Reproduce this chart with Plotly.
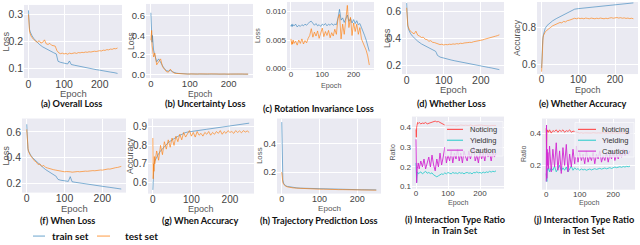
import plotly.graph_objects as go

# ---------------- data ----------------
EP = [0, 1, 2, 3, 4, 5, 7, 10, 15, 20, 25, 30, 35, 40, 45, 50, 55, 60, 65, 70, 75, 80, 85, 90, 95,
      100, 105, 110, 115, 120, 125, 130, 135, 140, 145, 150, 155, 160, 165, 170, 175, 180, 185, 190,
      195, 200, 205, 210, 215, 220, 225, 230, 235, 240, 245, 250]
EP_S = [0, 1, 2, 3, 5, 7, 10, 15, 20, 30, 40, 50, 60, 70, 78, 80, 83, 90, 100, 110, 115, 120, 130,
        140, 150, 160, 170, 180, 190, 200, 210, 220, 230, 240, 250]

A_TRAIN = [0.315, 0.275, 0.255, 0.245, 0.235, 0.228, 0.221, 0.211, 0.203, 0.19, 0.18, 0.172, 0.165,
           0.159, 0.154, 0.14, 0.127, 0.123, 0.12, 0.117, 0.128, 0.115, 0.112, 0.109, 0.106, 0.103,
           0.101, 0.098, 0.096, 0.094, 0.091, 0.089, 0.087, 0.085, 0.082]
A_TEST = [0.30, 0.262, 0.248, 0.238, 0.232, 0.227, 0.221, 0.214, 0.206, 0.201, 0.197, 0.203, 0.194,
          0.197, 0.206, 0.191, 0.189, 0.193, 0.186, 0.185, 0.183, 0.166, 0.158, 0.155, 0.157, 0.154,
          0.156, 0.153, 0.157, 0.155, 0.156, 0.158, 0.156, 0.159, 0.158, 0.160, 0.159, 0.161, 0.160,
          0.162, 0.161, 0.163, 0.164, 0.163, 0.165, 0.166, 0.165, 0.168, 0.167, 0.170, 0.169, 0.172,
          0.171, 0.174, 0.173, 0.176]

B_TRAIN = [0.63, 0.50, 0.38, 0.33, 0.40, 0.30, 0.25, 0.20, 0.13, 0.16, 0.12, 0.09, 0.06, 0.04, 0.035,
           0.045, 0.03, 0.02, 0.015, 0.012, 0.010, 0.008, 0.007, 0.006,
           0.006, 0.005, 0.006, 0.005, 0.005, 0.006, 0.005, 0.005, 0.004, 0.005, 0.005, 0.004, 0.005,
           0.004, 0.004, 0.005, 0.004, 0.004, 0.005, 0.004, 0.004, 0.004, 0.005, 0.004, 0.004, 0.004,
           0.004, 0.005, 0.004, 0.004, 0.004, 0.004]
B_TEST = [0.35, 0.42, 0.45, 0.30, 0.25, 0.28, 0.18, 0.22, 0.10, 0.13, 0.16, 0.08, 0.05, 0.03, 0.025,
          0.055, 0.03, 0.015, 0.012, 0.01, 0.008, 0.007, 0.006, 0.006,
          0.005, 0.007, 0.005, 0.006, 0.006, 0.005, 0.007, 0.005, 0.006, 0.005, 0.006, 0.007, 0.005,
          0.006, 0.005, 0.006, 0.005, 0.007, 0.005, 0.006, 0.005, 0.006, 0.006, 0.005, 0.007, 0.005,
          0.006, 0.005, 0.006, 0.005, 0.006, 0.005]

C_TRAIN = [0.0076, 0.0074, 0.0077, 0.0075, 0.0078, 0.0074, 0.0077, 0.0075, 0.0078, 0.0073, 0.0076,
           0.0074, 0.0077, 0.0075, 0.0078, 0.0076, 0.0079, 0.0082, 0.0083, 0.0079, 0.0076, 0.0079,
           0.0075, 0.0077, 0.0074, 0.0078, 0.0076, 0.0079, 0.0075, 0.0078, 0.0076, 0.0079, 0.0076,
           0.0078, 0.0077, 0.0088, 0.0104, 0.0085, 0.0089, 0.0081, 0.0087, 0.0094, 0.0083, 0.0088,
           0.0080, 0.0086, 0.0079, 0.0084, 0.0077, 0.0079, 0.0072, 0.0066, 0.0058, 0.0050, 0.0040,
           0.0030]
C_TEST = [0.0052, 0.0045, 0.0049, 0.0042, 0.0047, 0.0043, 0.0050, 0.0044, 0.0048, 0.0041, 0.0050,
          0.0044, 0.0052, 0.0043, 0.0049, 0.0045, 0.0053, 0.0058, 0.0070, 0.0055, 0.0064, 0.0057,
          0.0066, 0.0053, 0.0062, 0.0071, 0.0056, 0.0065, 0.0058, 0.0067, 0.0054, 0.0063, 0.0057,
          0.0069, 0.0060, 0.0088, 0.0095, 0.0052, 0.0078, 0.0060, 0.0085, 0.0111, 0.0072, 0.0090,
          0.0058, 0.0080, 0.0065, 0.0078, 0.0060, 0.0072, 0.0052, 0.0046, 0.0038, 0.0032, 0.0022,
          0.0006]

D_TRAIN = [0.665, 0.56, 0.52, 0.50, 0.47, 0.455, 0.44, 0.42, 0.405, 0.38, 0.36, 0.345, 0.33, 0.315,
           0.305, 0.295, 0.275, 0.262, 0.253, 0.246, 0.243, 0.240, 0.234, 0.228, 0.222, 0.216, 0.210,
           0.205, 0.200, 0.195, 0.190, 0.185, 0.180, 0.175, 0.168]
D_TEST = [0.63, 0.55, 0.52, 0.50, 0.49, 0.48, 0.47, 0.455, 0.445, 0.435, 0.455, 0.425, 0.418, 0.408,
          0.41, 0.395, 0.392, 0.38, 0.384, 0.372, 0.37, 0.365, 0.36, 0.355, 0.358, 0.352, 0.356,
          0.354, 0.358, 0.356, 0.36, 0.358, 0.362, 0.36, 0.365, 0.363, 0.367, 0.366, 0.37, 0.372,
          0.371, 0.376, 0.378, 0.381, 0.384, 0.388, 0.39, 0.395, 0.398, 0.402, 0.405, 0.41, 0.413,
          0.418, 0.422, 0.428]

E_TRAIN = [0.58, 0.65, 0.70, 0.73, 0.76, 0.78, 0.795, 0.81, 0.82, 0.835, 0.847, 0.857, 0.867, 0.877,
           0.886, 0.889, 0.893, 0.898, 0.901, 0.903, 0.904, 0.905, 0.907, 0.909, 0.911, 0.913, 0.915,
           0.917, 0.919, 0.921, 0.923, 0.925, 0.927, 0.929, 0.932]
E_TEST = [0.56, 0.64, 0.70, 0.73, 0.745, 0.755, 0.765, 0.775, 0.785, 0.795, 0.80, 0.808, 0.812, 0.818,
          0.822, 0.826, 0.824, 0.832, 0.829, 0.836, 0.838, 0.843, 0.846, 0.849, 0.846, 0.85, 0.847,
          0.849, 0.846, 0.85, 0.848, 0.846, 0.85, 0.848, 0.846, 0.849, 0.847, 0.85, 0.848, 0.846,
          0.849, 0.847, 0.85, 0.852, 0.849, 0.851, 0.853, 0.85, 0.852, 0.849, 0.851, 0.848, 0.85,
          0.847, 0.849, 0.846]

F_TRAIN = [0.66, 0.55, 0.50, 0.47, 0.45, 0.435, 0.42, 0.40, 0.385, 0.355, 0.33, 0.305, 0.285, 0.265,
           0.252, 0.24, 0.228, 0.222, 0.217, 0.213, 0.25, 0.21, 0.205, 0.2, 0.195, 0.19, 0.186, 0.182,
           0.178, 0.174, 0.17, 0.166, 0.162, 0.158, 0.153]
F_TEST = [0.62, 0.54, 0.50, 0.47, 0.455, 0.445, 0.43, 0.415, 0.395, 0.375, 0.365, 0.345, 0.35, 0.33,
          0.338, 0.322, 0.318, 0.312, 0.308, 0.305, 0.302, 0.298, 0.295, 0.292, 0.29, 0.288, 0.29,
          0.286, 0.288, 0.285, 0.288, 0.286, 0.29, 0.288, 0.291, 0.29, 0.293, 0.292, 0.295, 0.294,
          0.297, 0.296, 0.299, 0.298, 0.302, 0.301, 0.305, 0.306, 0.31, 0.309, 0.314, 0.316, 0.32,
          0.322, 0.326, 0.33]

G_TRAIN = [0.56, 0.65, 0.69, 0.70, 0.715, 0.725, 0.74, 0.755, 0.77, 0.795, 0.815, 0.83, 0.845, 0.855,
           0.862, 0.865, 0.868, 0.872, 0.876, 0.879, 0.88, 0.881, 0.884, 0.887, 0.89, 0.893, 0.896,
           0.899, 0.902, 0.905, 0.908, 0.911, 0.914, 0.917, 0.92]
G_TEST = [0.84, 0.62, 0.70, 0.66, 0.74, 0.70, 0.73, 0.77, 0.72, 0.80, 0.75, 0.82, 0.78, 0.83, 0.79,
          0.84, 0.80, 0.85, 0.82, 0.86, 0.83, 0.87, 0.845, 0.865, 0.88, 0.85, 0.87, 0.845, 0.875,
          0.855, 0.865, 0.85, 0.87, 0.86, 0.875, 0.855, 0.87, 0.86, 0.875, 0.865, 0.88, 0.86, 0.875,
          0.865, 0.88, 0.87, 0.875, 0.865, 0.88, 0.87, 0.878, 0.868, 0.88, 0.872, 0.878, 0.87]

H_TRAIN = [0.55, 0.35, 0.20, 0.145, 0.122, 0.112, 0.105, 0.10, 0.097, 0.093, 0.09, 0.088, 0.087,
           0.086, 0.085, 0.085, 0.085, 0.084, 0.083, 0.083, 0.082, 0.082, 0.082, 0.081, 0.08, 0.08,
           0.079, 0.079, 0.078, 0.078, 0.077, 0.077, 0.077, 0.076, 0.076]
H_TEST = [0.20, 0.17, 0.145, 0.128, 0.116, 0.108, 0.102, 0.097, 0.094, 0.09, 0.088, 0.086, 0.085,
          0.084, 0.083, 0.083, 0.083, 0.082, 0.081, 0.081, 0.08, 0.08, 0.079, 0.079, 0.078, 0.078,
          0.077, 0.077, 0.076, 0.076, 0.075, 0.075, 0.075, 0.074, 0.074]

I_NOTICING = [0.39, 0.35, 0.40, 0.41, 0.42, 0.425, 0.42, 0.425, 0.418, 0.422, 0.42, 0.425, 0.418, 0.42,
              0.423, 0.427, 0.43, 0.432, 0.428, 0.43, 0.425, 0.42, 0.415, 0.412, 0.41, 0.41, 0.412,
              0.409, 0.411, 0.41, 0.408, 0.411, 0.41, 0.412, 0.409, 0.41, 0.411, 0.409, 0.41, 0.412,
              0.41, 0.408, 0.41, 0.411, 0.409, 0.41, 0.412, 0.41, 0.409, 0.411, 0.41, 0.408, 0.41,
              0.411, 0.409, 0.41]
I_YIELDING = [0.22, 0.14, 0.12, 0.15, 0.17, 0.175, 0.165, 0.17, 0.175, 0.165, 0.17, 0.178, 0.168, 0.172,
              0.166, 0.17, 0.16, 0.155, 0.15, 0.155, 0.16, 0.165, 0.162, 0.17, 0.165, 0.172, 0.168,
              0.165, 0.172, 0.168, 0.17, 0.166, 0.172, 0.168, 0.17, 0.165, 0.17, 0.172, 0.168, 0.17,
              0.165, 0.172, 0.17, 0.175, 0.17, 0.172, 0.168, 0.174, 0.17, 0.175, 0.172, 0.178, 0.174,
              0.178, 0.176, 0.18]
I_CAUTION = [0.34, 0.20, 0.12, 0.16, 0.19, 0.20, 0.22, 0.19, 0.23, 0.20, 0.24, 0.19, 0.22, 0.25, 0.20,
             0.26, 0.21, 0.18, 0.24, 0.20, 0.27, 0.21, 0.25, 0.30, 0.22, 0.26, 0.23, 0.28, 0.22, 0.27,
             0.24, 0.29, 0.23, 0.27, 0.22, 0.28, 0.25, 0.23, 0.28, 0.24, 0.27, 0.30, 0.23, 0.26, 0.22,
             0.28, 0.24, 0.27, 0.23, 0.29, 0.25, 0.27, 0.23, 0.28, 0.25, 0.27]

J_NOTICING = [0.43, 0.30, 0.40, 0.42, 0.41, 0.415, 0.405, 0.42, 0.40, 0.415, 0.41, 0.42, 0.405, 0.418,
              0.41, 0.42, 0.405, 0.415, 0.41, 0.42, 0.405, 0.412, 0.41, 0.405, 0.402, 0.40, 0.402,
              0.399, 0.401, 0.40, 0.398, 0.401, 0.40, 0.402, 0.399, 0.40, 0.401, 0.399, 0.40, 0.402,
              0.40, 0.398, 0.40, 0.401, 0.399, 0.40, 0.402, 0.40, 0.399, 0.401, 0.40, 0.398, 0.40,
              0.401, 0.399, 0.40]
J_YIELDING = [0.15, 0.12, 0.10, 0.16, 0.18, 0.17, 0.19, 0.16, 0.185, 0.17, 0.195, 0.16, 0.18, 0.20,
              0.165, 0.185, 0.17, 0.19, 0.16, 0.18, 0.195, 0.17, 0.185, 0.175, 0.18, 0.17, 0.178,
              0.172, 0.176, 0.17, 0.175, 0.178, 0.172, 0.176, 0.18, 0.175, 0.178, 0.182, 0.177, 0.18,
              0.184, 0.179, 0.183, 0.186, 0.181, 0.185, 0.19, 0.186, 0.189, 0.192, 0.188, 0.193, 0.19,
              0.194, 0.192, 0.195]
J_CAUTION = [0.10, 0.45, 0.12, 0.30, 0.20, 0.28, 0.18, 0.32, 0.16, 0.30, 0.19, 0.34, 0.17, 0.29, 0.15,
             0.31, 0.20, 0.33, 0.16, 0.27, 0.19, 0.30, 0.21, 0.32, 0.22, 0.28, 0.23, 0.27, 0.21, 0.29,
             0.22, 0.26, 0.23, 0.28, 0.21, 0.27, 0.24, 0.29, 0.22, 0.26, 0.23, 0.28, 0.22, 0.27, 0.24,
             0.29, 0.23, 0.27, 0.24, 0.28, 0.25, 0.30, 0.26, 0.28, 0.27, 0.29]

X_TICKS = [0, 100, 200]

# ---------------- styling / layout ----------------
W, H = 640, 245
BLUE = 'rgba(31,119,180,0.55)'
ORANGE = 'rgba(255,127,14,0.65)'
RED = 'rgba(255,70,70,0.9)'
CYAN = 'rgba(50,205,205,0.9)'
MAGENTA = 'rgba(210,40,210,0.9)'
BG = '#EAEAF2'
TICK_FONT = 'Liberation Sans, Arial, sans-serif'
TITLE_FONT = 'Lato, sans-serif'
TITLE_SIZE = 9.2


def fx(p):
    return p / W


def fy(p):
    return 1 - p / H


PANELS = [
    dict(series=[(EP_S, A_TRAIN, BLUE), (EP, A_TEST, ORANGE)], box=(24, 122, 5, 79),
         yr=[0.065, 0.335], yt=[0.1, 0.2, 0.3], fmt='.1f', fs=10.5, ylab='Loss', ylx=6,
         title=['(a) Overall Loss'], tx=71, ty=[105], ey=95, xr=[-12.5, 262.5]),
    dict(series=[(EP, B_TRAIN, BLUE), (EP, B_TEST, ORANGE)], box=(146, 253, 4, 79),
         yr=[-0.035, 0.72], yt=[0.0, 0.2, 0.4, 0.6], fmt='.1f', fs=9.5, ylab='Loss', ylx=131,
         title=['(b) Uncertainty Loss'], tx=205, ty=[105], ey=95, xr=[-12.5, 262.5]),
    dict(series=[(EP, C_TRAIN, BLUE), (EP, C_TEST, ORANGE)], box=(287, 374, 2, 71),
         yr=[-0.0003, 0.0117], yt=[0.0, 0.005, 0.010], fmt='.3f', fs=8, ylab='Loss', ylx=257,
         title=['(c) Rotation Invariance Loss'], tx=318, ty=[110], ey=87, xr=[-12.5, 265]),
    dict(series=[(EP_S, D_TRAIN, BLUE), (EP, D_TEST, ORANGE)], box=(402, 504, 2, 75),
         yr=[0.135, 0.673], yt=[0.2, 0.4, 0.6], fmt='.1f', fs=10.5, ylab='Loss', ylx=387,
         title=['(d) Whether Loss'], tx=451, ty=[105], ey=91, xr=[-12.5, 262.5]),
    dict(series=[(EP_S, E_TRAIN, BLUE), (EP, E_TEST, ORANGE)], box=(537, 638, 2, 75),
         yr=[0.547, 0.937], yt=[0.6, 0.8], fmt='.1f', fs=10, ylab='Accuracy', ylx=517,
         title=['(e) Whether Accuracy'], tx=583, ty=[105], ey=91, xr=[-12.5, 262.5]),
    dict(series=[(EP_S, F_TRAIN, BLUE), (EP, F_TEST, ORANGE)], box=(22, 126, 120, 195),
         yr=[0.125, 0.705], yt=[0.2, 0.4, 0.6], fmt='.1f', fs=10.5, ylab='Loss', ylx=6,
         title=['(f) When Loss'], tx=67, ty=[223], ey=211, xr=[-12.5, 262.5]),
    dict(series=[(EP_S, G_TRAIN, BLUE), (EP, G_TEST, ORANGE)], box=(148, 254, 120, 196),
         yr=[0.54, 0.945], yt=[0.6, 0.7, 0.8, 0.9], fmt='.1f', fs=10, ylab='Accuracy', ylx=130,
         title=['(g) When Accuracy'], tx=200, ty=[223], ey=212, xr=[-12.5, 262.5]),
    dict(series=[(EP_S, H_TRAIN, BLUE), (EP_S, H_TEST, ORANGE)], box=(277, 381, 120, 196),
         yr=[0.05, 0.575], yt=[0.2, 0.4], fmt='.1f', fs=9, ylab='Loss', ylx=259,
         title=['(h) Trajectory Prediction Loss'], tx=319, ty=[223], ey=211, xr=[-12.5, 262.5]),
    dict(series=[(EP, I_NOTICING, RED), (EP, I_YIELDING, CYAN), (EP, I_CAUTION, MAGENTA)],
         box=(412, 504, 118, 191), yr=[0.09, 0.455], yt=[0.1, 0.2, 0.3, 0.4], fmt='.1f', fs=8,
         ylab='Ratio', ylx=393, title=['(i) Interaction Type Ratio', 'in Train Set'], tx=455,
         ty=[222, 233], ey=205, xr=[-12.5, 275],
         leg=dict(box=(445, 503, 123, 158), lx=(447, 463), tx=468, rows=[131, 142, 152])),
    dict(series=[(EP, J_NOTICING, RED), (EP, J_YIELDING, CYAN), (EP, J_CAUTION, MAGENTA)],
         box=(542, 635, 120, 192), yr=[0.05, 0.49], yt=[0.2, 0.4], fmt='.1f', fs=8,
         ylab='Ratio', ylx=523, title=['(j) Interaction Type Ratio', 'in Test Set'], tx=584,
         ty=[222, 233], ey=205, xr=[-12.5, 265],
         leg=dict(box=(575, 634, 124, 159), lx=(578, 596), tx=600, rows=[131, 142, 153])),
]
LEG_NAMES = ['Noticing', 'Yielding', 'Caution']
LEG_COLORS = [RED, CYAN, MAGENTA]

fig = go.Figure()
layout = dict(width=W, height=H, margin=dict(l=0, r=0, t=0, b=0), paper_bgcolor='white',
              plot_bgcolor=BG, showlegend=False)
annotations = []
shapes = []

for i, p in enumerate(PANELS):
    n = i + 1
    xa = 'xaxis' if n == 1 else f'xaxis{n}'
    ya = 'yaxis' if n == 1 else f'yaxis{n}'
    xr_ = 'x' if n == 1 else f'x{n}'
    yr_ = 'y' if n == 1 else f'y{n}'
    x0, x1, y0, y1 = p['box']
    fs = p['fs']
    layout[xa] = dict(domain=[fx(x0), fx(x1)], range=p['xr'], anchor=yr_, tickvals=X_TICKS,
                      showgrid=True, gridcolor='white', gridwidth=1, zeroline=False,
                      showline=False, ticks='', ticklen=0, ticklabelstandoff=-2,
                      tickfont=dict(family=TICK_FONT, size=fs, color='#444'))
    layout[ya] = dict(domain=[fy(y1), fy(y0)], range=p['yr'], anchor=xr_, tickvals=p['yt'],
                      tickformat=p['fmt'], showgrid=True, gridcolor='white', gridwidth=1,
                      zeroline=False, showline=False, ticks='', ticklen=0,
                      tickfont=dict(family=TICK_FONT, size=fs, color='#444'))
    for k, (xs, ys, col) in enumerate(p['series']):
        m = min(len(xs), len(ys))
        fig.add_trace(go.Scatter(x=xs[:m], y=ys[:m], mode='lines', xaxis=xr_, yaxis=yr_,
                                 line=dict(color=col, width=1), hoverinfo='skip'))
    # axis titles
    annotations.append(dict(text='Epoch', x=fx((x0 + x1) / 2), y=fy(p['ey']), xref='paper',
                            yref='paper', showarrow=False, xanchor='center', yanchor='middle',
                            font=dict(family=TICK_FONT, size=fs * 0.9, color='#555')))
    annotations.append(dict(text=p['ylab'], x=fx(p['ylx']), y=fy((y0 + y1) / 2), xref='paper',
                            yref='paper', showarrow=False, xanchor='center', yanchor='middle',
                            textangle=-90,
                            font=dict(family=TICK_FONT, size=fs * 0.88, color='#555')))
    # panel captions
    for line, ty in zip(p['title'], p['ty']):
        annotations.append(dict(text=f'<b>{line}</b>', x=fx(p['tx']), y=fy(ty), xref='paper',
                                yref='paper', showarrow=False, xanchor='center',
                                yanchor='middle',
                                font=dict(family=TITLE_FONT, size=TITLE_SIZE, color='#111')))
    # in-plot legends for (i) and (j)
    if 'leg' in p:
        lg = p['leg']
        bx0, bx1, by0, by1 = lg['box']
        shapes.append(dict(type='rect', xref='paper', yref='paper', x0=fx(bx0), x1=fx(bx1),
                           y0=fy(by1), y1=fy(by0), fillcolor='rgba(236,236,244,0.8)',
                           line=dict(color='rgba(255,255,255,0.7)', width=0.8), layer='above'))
        for name, col, ry in zip(LEG_NAMES, LEG_COLORS, lg['rows']):
            shapes.append(dict(type='line', xref='paper', yref='paper', x0=fx(lg['lx'][0]),
                               x1=fx(lg['lx'][1]), y0=fy(ry), y1=fy(ry),
                               line=dict(color=col, width=1.2), layer='above'))
            annotations.append(dict(text=name, x=fx(lg['tx']), y=fy(ry), xref='paper',
                                    yref='paper', showarrow=False, xanchor='left',
                                    yanchor='middle',
                                    font=dict(family=TICK_FONT, size=7.5, color='#333')))

# bottom shared legend
for (lx0, lx1, tx, name, col) in [(33, 45, 50, 'train set', BLUE), (97, 110, 123, 'test set', ORANGE)]:
    shapes.append(dict(type='line', xref='paper', yref='paper', x0=fx(lx0), x1=fx(lx1),
                       y0=fy(239), y1=fy(239), line=dict(color=col, width=1.2)))
    annotations.append(dict(text=f'<b>{name}</b>', x=fx(tx), y=fy(239), xref='paper',
                            yref='paper', showarrow=False, xanchor='left', yanchor='middle',
                            font=dict(family=TITLE_FONT, size=10, color='#111')))

layout['annotations'] = annotations
layout['shapes'] = shapes
fig.update_layout(**layout)
fig.write_html('out.html', config={'displayModeBar': False},
               post_script="document.body.style.margin='0px';")
